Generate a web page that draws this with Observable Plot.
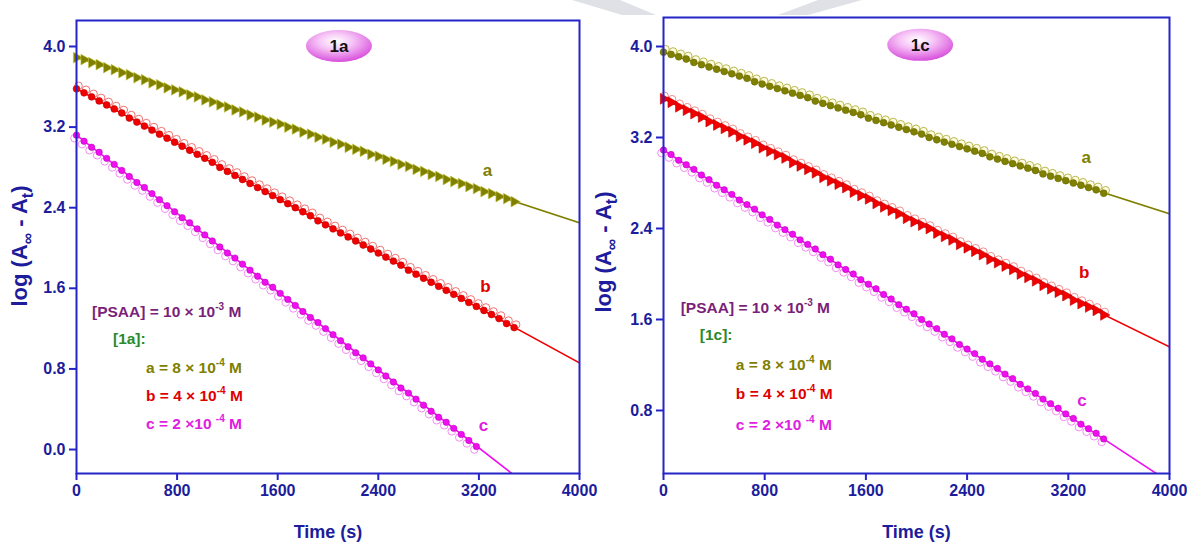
<!DOCTYPE html>
<html><head><meta charset="utf-8">
<script src="https://cdn.jsdelivr.net/npm/d3@7"></script>
<script src="https://cdn.jsdelivr.net/npm/@observablehq/plot@0.6"></script>
<style>
body{margin:0;background:#fff}
#wrap{display:flex;width:1187px;height:545px;position:relative;overflow:hidden}
#wm{position:absolute;left:0;top:0}
#wrap > svg.plot{position:relative}
</style>
</head><body><div id="wrap"><svg id="wm" width="1187" height="40"><polygon points="572,0 620,0 656,15 622,15" fill="#dfe1e6"/><polygon points="778,15 808,15 862,0 818,0" fill="#dfe1e6"/></svg></div>
<script>
// ---------- data ----------
const time = [0,60,120,180,240,300,360,420,480,540,600,660,720,780,840,900,960,1020,1080,1140,
1200,1260,1320,1380,1440,1500,1560,1620,1680,1740,1800,1860,1920,1980,2040,2100,2160,2220,2280,2340,
2400,2460,2520,2580,2640,2700,2760,2820,2880,2940,3000,3060,3120,3180,3240,3300,3360,3420,3480];

// panel 1a
const a1a = [3.89,3.87,3.84,3.82,3.79,3.77,3.74,3.72,3.69,3.67,3.64,3.62,3.59,3.57,3.55,3.52,3.50,3.47,3.45,3.42,
3.40,3.37,3.35,3.32,3.30,3.27,3.25,3.23,3.20,3.18,3.15,3.13,3.10,3.08,3.05,3.03,3.00,2.98,2.96,2.93,
2.91,2.88,2.86,2.83,2.81,2.78,2.76,2.73,2.71,2.68,2.66,2.64,2.61,2.59,2.56,2.54,2.51,2.49,2.46];
const b1a = [3.58,3.54,3.50,3.46,3.42,3.38,3.34,3.29,3.25,3.21,3.17,3.13,3.09,3.05,3.01,2.97,2.93,2.89,2.85,2.80,
2.76,2.72,2.68,2.64,2.60,2.56,2.52,2.48,2.44,2.40,2.36,2.32,2.27,2.23,2.19,2.15,2.11,2.07,2.03,1.99,
1.95,1.91,1.87,1.83,1.78,1.74,1.70,1.66,1.62,1.58,1.54,1.50,1.46,1.42,1.38,1.34,1.30,1.25,1.21];
const c1a = [3.12,3.06,3.00,2.95,2.89,2.83,2.77,2.71,2.65,2.60,2.54,2.48,2.42,2.36,2.30,2.25,2.19,2.13,2.07,2.01,
1.95,1.90,1.84,1.78,1.72,1.66,1.61,1.55,1.49,1.43,1.37,1.31,1.26,1.20,1.14,1.08,1.02,0.96,0.91,0.85,
0.79,0.73,0.67,0.61,0.56,0.50,0.44,0.38,0.32,0.27,0.21,0.15,0.09,0.03];

// panel 1c
const a1c = [3.95,3.93,3.91,3.89,3.86,3.84,3.82,3.80,3.78,3.76,3.74,3.72,3.69,3.67,3.65,3.63,3.61,3.59,3.57,3.55,
3.52,3.50,3.48,3.46,3.44,3.42,3.40,3.37,3.35,3.33,3.31,3.29,3.27,3.25,3.23,3.20,3.18,3.16,3.14,3.12,
3.10,3.08,3.06,3.03,3.01,2.99,2.97,2.95,2.93,2.91,2.88,2.86,2.84,2.82,2.80,2.78,2.76,2.74,2.71];
const b1c = [3.54,3.51,3.47,3.44,3.41,3.38,3.34,3.31,3.28,3.25,3.21,3.18,3.15,3.11,3.08,3.05,3.02,2.98,2.95,2.92,
2.89,2.85,2.82,2.79,2.76,2.72,2.69,2.66,2.62,2.59,2.56,2.53,2.49,2.46,2.43,2.40,2.36,2.33,2.30,2.26,
2.23,2.20,2.17,2.13,2.10,2.07,2.04,2.00,1.97,1.94,1.90,1.87,1.84,1.81,1.77,1.74,1.71,1.68,1.64];
const c1c = [3.09,3.05,3.00,2.96,2.92,2.87,2.83,2.78,2.74,2.70,2.65,2.61,2.57,2.52,2.48,2.43,2.39,2.35,2.30,2.26,
2.22,2.17,2.13,2.08,2.04,2.00,1.95,1.91,1.87,1.82,1.78,1.73,1.69,1.65,1.60,1.56,1.52,1.47,1.43,1.38,
1.34,1.30,1.25,1.21,1.17,1.12,1.08,1.03,0.99,0.95,0.90,0.86,0.82,0.77,0.73,0.68,0.64,0.60,0.55];

// fitted lines (start / end at t = 0, 4000)
const fitTime = [0, 4000];
const fitA1a = [3.89, 2.25], fitB1a = [3.58, 0.86], fitC1a = [3.12, -0.76];
const fitA1c = [3.95, 2.53], fitB1c = [3.54, 1.36], fitC1c = [3.09, 0.17];

// ticks
const xTicks = [0, 800, 1600, 2400, 3200, 4000];
const yTicks1a = [0.0, 0.8, 1.6, 2.4, 3.2, 4.0];
const yTicks1c = [0.8, 1.6, 2.4, 3.2, 4.0];

// series labels and their positions (data units)
const seriesNames = ["a", "b", "c"];
const labelT1a = [3268, 3252, 3237], labelV1a = [2.77, 1.62, 0.24];
const labelT1c = [3341, 3325, 3309], labelV1c = [3.02, 2.01, 0.89];

// legend text
const legendBase = ["[PSAA] = 10 × 10", null, "a = 8 × 10", "b = 4 × 10", "c = 2 ×10 "];
const legendSup = ["-3", null, "-4", "-4", "-4"];
const legendTail = [" M", null, " M", " M", " M"];
const legendT1a = [127, 294, 557, 557, 557], legendV1a = [1.36, 1.10, 0.81, 0.53, 0.25];
const legendT1c = [140, 291, 576, 576, 576], legendV1c = [1.70, 1.46, 1.20, 0.94, 0.67];

// ---------- style ----------
const FONT = '"Liberation Sans",Arial,sans-serif';
const OLIVE = "#808000", RED = "#f00000", MAG = "#ee10ee";
const PURPLE = "#7a1f7a", GREEN = "#2a8a2a";
const AXIS = "#2424c8", AXTEXT = "#1c1c9c";
const legendColors = [PURPLE, GREEN, OLIVE, "#e00000", "#e020e0"];

function makePanel(cfg) {
  const marks = [];
  cfg.series.forEach(s => {
    const pts = s.values.map((v, i) => ({t: time[i], v}));
    const fit = fitTime.map((t, i) => ({t, v: s.fit[i]}));
    marks.push(Plot.line(fit, {x: "t", y: "v", stroke: s.color, strokeWidth: 1.6, clip: true}));
    if (s.open) marks.push(Plot.dot(pts, {x: "t", y: "v", r: 3.8, stroke: s.openColor, fill: s.openFill, strokeWidth: 0.9, dx: s.odx, dy: s.ody}));
    marks.push(Plot.dot(pts, {x: "t", y: "v", r: s.r, symbol: s.symbol, rotate: s.rotate || 0, fill: s.color, stroke: s.edge, strokeWidth: 0.6}));
  });
  marks.push(Plot.text(seriesNames, {x: (d, i) => cfg.labelT[i], y: (d, i) => cfg.labelV[i], text: d => d,
    fill: (d, i) => cfg.series[i].labelColor, fontSize: 17, fontWeight: "bold", fontFamily: FONT}));
  marks.push(Plot.axisX(xTicks, {tickSize: 7, tickPadding: 4, strokeWidth: 2, stroke: AXIS, fill: AXTEXT,
    fontSize: 16, fontWeight: "bold", label: null, tickFormat: d3.format("d")}));
  marks.push(Plot.axisY(cfg.yTicks, {tickSize: 7, tickPadding: 4, strokeWidth: 2, stroke: AXIS, fill: AXTEXT,
    fontSize: 16, fontWeight: "bold", label: null, tickFormat: d3.format(".1f")}));
  marks.push(Plot.frame({stroke: AXIS, strokeWidth: 2}));
  marks.push(Plot.text(["Time (s)"], {frameAnchor: "bottom", dy: 64, text: d => d, fill: AXTEXT,
    fontSize: 18, fontWeight: "bold", fontFamily: FONT}));

  const chart = Plot.plot({
    width: cfg.width, height: 545,
    marginLeft: cfg.ml, marginRight: cfg.mr, marginTop: cfg.mt, marginBottom: 72,
    x: {domain: [0, 4000]},
    y: {domain: cfg.yDomain},
    style: {fontFamily: FONT, background: "transparent", overflow: "visible"},
    marks
  });

  const sx = chart.scale("x"), sy = chart.scale("y");
  const svg = d3.select(chart);

  // badge
  const gid = "grad" + cfg.badge;
  const defs = svg.append("defs");
  const g = defs.append("radialGradient").attr("id", gid).attr("cx", "45%").attr("cy", "35%").attr("r", "65%");
  g.append("stop").attr("offset", "0%").attr("stop-color", "#ffffff");
  g.append("stop").attr("offset", "40%").attr("stop-color", "#f6c4f6");
  g.append("stop").attr("offset", "100%").attr("stop-color", "#d850dc");
  const bx = sx.apply(cfg.badgeT), by = sy.apply(cfg.badgeV);
  svg.append("ellipse").attr("cx", bx).attr("cy", by).attr("rx", 33).attr("ry", 16)
    .attr("fill", `url(#${gid})`);
  svg.append("text").attr("x", bx).attr("y", by).attr("text-anchor", "middle").attr("dy", "0.35em")
    .attr("font-family", FONT).attr("font-weight", "bold").attr("font-size", 17).attr("fill", "#111")
    .text(cfg.badge);

  // legend
  legendBase.forEach((base, i) => {
    const t = svg.append("text").attr("x", sx.apply(cfg.legendT[i])).attr("y", sy.apply(cfg.legendV[i]))
      .attr("text-anchor", "start")
      .attr("dy", "0.35em").attr("font-family", FONT).attr("font-weight", "bold").attr("font-size", 15.5)
      .attr("fill", legendColors[i]);
    if (base === null) { t.text("[" + cfg.badge + "]:"); return; }
    t.append("tspan").text(base);
    t.append("tspan").attr("dy", -7).attr("font-size", 10).text(legendSup[i]);
    t.append("tspan").attr("dy", 7).text(legendTail[i]);
  });

  // y label
  const yl = svg.append("text")
    .attr("transform", `translate(${cfg.ylX},${cfg.ylY}) rotate(-90)`)
    .attr("text-anchor", "middle").attr("font-family", FONT).attr("font-weight", "bold")
    .attr("font-size", 22).attr("fill", AXTEXT);
  yl.append("tspan").text("log (A");
  yl.append("tspan").attr("dy", 6).attr("font-size", 16).text("∞");
  yl.append("tspan").attr("dy", -6).text(" - A");
  yl.append("tspan").attr("dy", 6).attr("font-size", 16).text("t");
  yl.append("tspan").attr("dy", -6).text(")");
  return chart;
}

const wrap = document.getElementById("wrap");
wrap.appendChild(makePanel({
  width: 593, ml: 76, mr: 14, mt: 20, yDomain: [-0.238, 4.258], yTicks: yTicks1a,
  series: [
    {values: a1a, fit: fitA1a, color: OLIVE, edge: "#c4c43a", symbol: "triangle", rotate: 90, r: 4, open: false, labelColor: OLIVE},
    {values: b1a, fit: fitB1a, color: RED, edge: "#c00000", symbol: "circle", r: 3.4, open: true, openColor: "#f06060", openFill: "none", odx: 2, ody: -3, labelColor: "#e00000"},
    {values: c1a, fit: fitC1a, color: MAG, edge: "#c000c0", symbol: "circle", r: 3.2, open: true, openColor: "#f080f0", openFill: "none", odx: -2, ody: 3, labelColor: "#e020e0"}
  ],
  labelT: labelT1a, labelV: labelV1a,
  legendT: legendT1a, legendV: legendV1a,
  badge: "1a", badgeT: 2091, badgeV: 4.0,
  ylX: 27, ylY: 246
}));
wrap.appendChild(makePanel({
  width: 594, ml: 70, mr: 18, mt: 17, yDomain: [0.246, 4.255], yTicks: yTicks1c,
  series: [
    {values: a1c, fit: fitA1c, color: OLIVE, edge: "#6a6a00", symbol: "circle", r: 3.4, open: true, openColor: "#b0b040", openFill: "#fffbe0", odx: 2, ody: -3, labelColor: OLIVE},
    {values: b1c, fit: fitB1c, color: RED, edge: "#c00000", symbol: "triangle", rotate: 90, r: 4, open: true, openColor: "#f08080", openFill: "none", odx: 1, ody: -3, labelColor: "#e00000"},
    {values: c1c, fit: fitC1c, color: MAG, edge: "#c000c0", symbol: "circle", r: 3.2, open: true, openColor: "#f080f0", openFill: "none", odx: -2, ody: 3, labelColor: "#e020e0"}
  ],
  labelT: labelT1c, labelV: labelV1c,
  legendT: legendT1c, legendV: legendV1c,
  badge: "1c", badgeT: 2033, badgeV: 4.01,
  ylX: 18, ylY: 252
}));
</script>
</body></html>
